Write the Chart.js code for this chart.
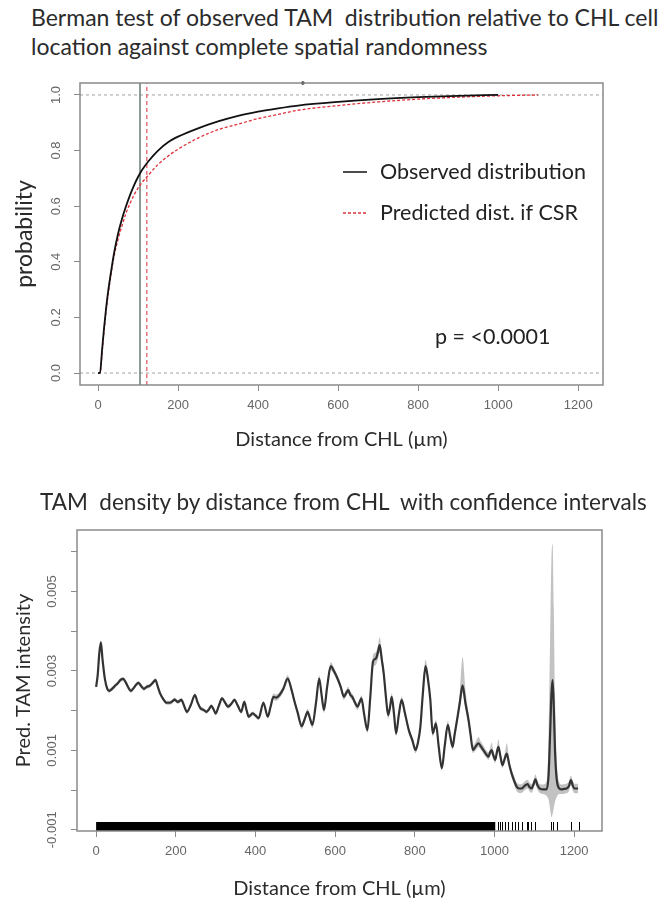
<!DOCTYPE html>
<html>
<head>
<meta charset="utf-8">
<script src="https://cdn.jsdelivr.net/npm/chart.js@4.4.0/dist/chart.umd.min.js"></script>
<style>
  body { margin: 0; background: #fff; }
  #page { position: relative; width: 662px; height: 901px; overflow: hidden; }
  .plot { position: absolute; left: 0; width: 662px; }
  .heading { position: absolute; font-family: Lato, sans-serif; color: #2b2b2b; white-space: pre; }
</style>
</head>
<body>
<div id="page">
  <div class="plot" style="top:65px;height:395px"><canvas id="bermanChart" width="662" height="395"></canvas></div>
  <div class="plot" style="top:460px;height:441px"><canvas id="densityChart" width="662" height="441"></canvas></div>
  <div class="heading" style="left:31px;top:3px;font-size:23px;line-height:29px">Berman test of observed TAM  distribution relative to CHL cell
location against complete spatial randomness</div>
  <div class="heading" style="left:40px;top:488px;font-size:22.5px">TAM  density by distance from CHL  with confidence intervals</div>
</div>
<script>
// ---- top plot: cumulative distribution of TAM distance to CHL ----
const obsDist = [0, 5, 10, 15, 20, 25, 30, 40, 50, 60, 70, 80, 90, 100, 110, 125, 150, 175, 200, 250, 300, 350, 400, 450, 500, 600, 700, 800, 900, 1000];
const obsCdf  = [0, 0, 0.08, 0.16, 0.23, 0.29, 0.34, 0.43, 0.50, 0.555, 0.60, 0.64, 0.675, 0.705, 0.73, 0.76, 0.80, 0.83, 0.85, 0.88, 0.905, 0.925, 0.94, 0.952, 0.962, 0.975, 0.985, 0.992, 0.997, 1.0];
const csrDist = [0, 5, 10, 15, 20, 30, 40, 50, 60, 70, 80, 90, 100, 110, 125, 150, 175, 200, 250, 300, 350, 400, 450, 500, 600, 700, 800, 900, 1000, 1100];
const csrCdf  = [0, 0, 0.07, 0.15, 0.22, 0.33, 0.42, 0.48, 0.53, 0.575, 0.61, 0.64, 0.665, 0.685, 0.71, 0.75, 0.78, 0.805, 0.845, 0.875, 0.895, 0.915, 0.93, 0.945, 0.962, 0.975, 0.985, 0.992, 0.997, 1.0];
const obsMarker = 105;   // solid vertical line
const csrMarker = 122;   // red dashed vertical line
const refLevels = [0, 1];
const cdfXTicks = [0, 200, 400, 600, 800, 1000, 1200];
const cdfYTicks = [0, 0.2, 0.4, 0.6, 0.8, 1.0];
const cdfYLabels = ['0.0', '0.2', '0.4', '0.6', '0.8', '1.0'];
const strayDot = [512, 1.043];
const cdfX = [-45, 1262];
const cdfY = [-0.043, 1.043];

// ---- bottom plot: predicted TAM intensity with confidence band ----
const distance = [0, 4, 8, 12, 16, 22, 28, 33, 40, 47, 55, 62, 68, 75, 82, 87, 95, 100, 106, 113, 120, 127, 135, 142, 149, 155, 160, 168, 177, 185, 192, 197, 205, 214, 221, 228, 238, 248, 255, 262, 270, 277, 283, 289, 295, 300, 308, 316, 324, 331, 340, 347, 356, 364, 372, 378, 383, 393, 400, 408, 420, 431, 438, 445, 452, 460, 470, 481, 490, 497, 506, 516, 524, 531, 537, 543, 552, 560, 566, 572, 580, 589, 597, 606, 614, 622, 628, 633, 638, 643, 650, 656, 661, 666, 673, 681, 688, 695, 700, 703, 708, 712, 717, 722, 728, 733, 738, 742, 748, 753, 760, 767, 775, 785, 794, 802, 808, 814, 820, 827, 833, 839, 845, 849, 853, 860, 868, 875, 883, 889, 895, 900, 906, 913, 920, 927, 935, 940, 946, 953, 960, 966, 972, 978, 985, 989, 993, 997, 1002, 1006, 1010, 1015, 1020, 1026, 1031, 1037, 1043, 1050, 1056, 1062, 1068, 1075, 1083, 1088, 1093, 1098, 1103, 1108, 1114, 1122, 1131, 1136, 1140, 1143, 1146, 1149, 1152, 1156, 1162, 1168, 1175, 1181, 1187, 1192, 1197, 1201, 1210];
const intensity = [2.60e-3, 2.90e-3, 3.45e-3, 3.72e-3, 3.30e-3, 2.80e-3, 2.55e-3, 2.50e-3, 2.55e-3, 2.62e-3, 2.70e-3, 2.78e-3, 2.80e-3, 2.70e-3, 2.56e-3, 2.50e-3, 2.58e-3, 2.65e-3, 2.70e-3, 2.62e-3, 2.55e-3, 2.60e-3, 2.63e-3, 2.70e-3, 2.77e-3, 2.60e-3, 2.45e-3, 2.30e-3, 2.20e-3, 2.20e-3, 2.24e-3, 2.28e-3, 2.22e-3, 2.27e-3, 2.12e-3, 1.97e-3, 2.15e-3, 2.39e-3, 2.20e-3, 2.06e-3, 2.02e-3, 1.97e-3, 2.03e-3, 2.12e-3, 2.03e-3, 1.93e-3, 2.12e-3, 2.31e-3, 2.20e-3, 2.10e-3, 2.18e-3, 2.27e-3, 2.12e-3, 1.97e-3, 2.22e-3, 2.00e-3, 1.85e-3, 1.93e-3, 1.88e-3, 1.81e-3, 2.20e-3, 1.85e-3, 2.10e-3, 2.35e-3, 2.33e-3, 2.39e-3, 2.55e-3, 2.81e-3, 2.55e-3, 2.27e-3, 1.95e-3, 1.61e-3, 1.80e-3, 1.97e-3, 1.80e-3, 1.64e-3, 2.20e-3, 2.81e-3, 2.40e-3, 2.02e-3, 2.60e-3, 3.12e-3, 3.00e-3, 2.81e-3, 2.60e-3, 2.35e-3, 2.45e-3, 2.52e-3, 2.40e-3, 2.35e-3, 2.20e-3, 2.10e-3, 2.20e-3, 2.31e-3, 1.90e-3, 1.51e-3, 2.30e-3, 3.23e-3, 3.30e-3, 3.32e-3, 3.50e-3, 3.65e-3, 3.30e-3, 2.94e-3, 2.30e-3, 1.89e-3, 2.10e-3, 2.35e-3, 1.90e-3, 1.43e-3, 1.90e-3, 2.27e-3, 1.95e-3, 1.51e-3, 1.25e-3, 1.01e-3, 1.20e-3, 1.59e-3, 2.40e-3, 3.12e-3, 2.80e-3, 2.27e-3, 1.43e-3, 1.55e-3, 1.68e-3, 1.10e-3, 0.55e-3, 1.10e-3, 1.64e-3, 1.35e-3, 1.09e-3, 1.40e-3, 1.76e-3, 2.20e-3, 2.64e-3, 2.20e-3, 1.76e-3, 1.40e-3, 1.01e-3, 1.10e-3, 1.18e-3, 1.10e-3, 1.01e-3, 0.92e-3, 0.84e-3, 0.95e-3, 1.01e-3, 0.88e-3, 0.76e-3, 0.95e-3, 1.09e-3, 0.85e-3, 0.63e-3, 0.80e-3, 0.92e-3, 0.65e-3, 0.42e-3, 0.22e-3, 0.08e-3, 0.04e-3, 0.04e-3, 0.10e-3, 0.15e-3, 0.08e-3, 0.04e-3, 0.14e-3, 0.27e-3, 0.12e-3, 0.04e-3, 0.02e-3, 0.02e-3, 0.40e-3, 1.50e-3, 2.40e-3, 2.77e-3, 2.10e-3, 1.00e-3, 0.30e-3, 0.05e-3, 0.02e-3, 0.03e-3, 0.04e-3, 0.10e-3, 0.25e-3, 0.10e-3, 0.04e-3, 0.04e-3];
const ciLow = [2.55e-3, 2.85e-3, 3.40e-3, 3.67e-3, 3.25e-3, 2.75e-3, 2.50e-3, 2.45e-3, 2.50e-3, 2.57e-3, 2.65e-3, 2.73e-3, 2.75e-3, 2.65e-3, 2.51e-3, 2.45e-3, 2.53e-3, 2.60e-3, 2.65e-3, 2.57e-3, 2.50e-3, 2.55e-3, 2.58e-3, 2.65e-3, 2.72e-3, 2.55e-3, 2.40e-3, 2.25e-3, 2.15e-3, 2.15e-3, 2.19e-3, 2.23e-3, 2.17e-3, 2.22e-3, 2.07e-3, 1.92e-3, 2.10e-3, 2.34e-3, 2.15e-3, 2.01e-3, 1.97e-3, 1.92e-3, 1.98e-3, 2.07e-3, 1.98e-3, 1.88e-3, 2.07e-3, 2.26e-3, 2.15e-3, 2.05e-3, 2.13e-3, 2.22e-3, 2.07e-3, 1.92e-3, 2.17e-3, 1.95e-3, 1.80e-3, 1.88e-3, 1.83e-3, 1.76e-3, 2.15e-3, 1.80e-3, 2.05e-3, 2.27e-3, 2.25e-3, 2.31e-3, 2.47e-3, 2.73e-3, 2.47e-3, 2.19e-3, 1.87e-3, 1.53e-3, 1.72e-3, 1.89e-3, 1.72e-3, 1.56e-3, 2.12e-3, 2.73e-3, 2.32e-3, 1.94e-3, 2.52e-3, 3.02e-3, 2.91e-3, 2.73e-3, 2.52e-3, 2.27e-3, 2.37e-3, 2.44e-3, 2.32e-3, 2.27e-3, 2.12e-3, 2.02e-3, 2.12e-3, 2.23e-3, 1.82e-3, 1.43e-3, 2.20e-3, 3.08e-3, 3.14e-3, 3.16e-3, 3.32e-3, 3.45e-3, 3.13e-3, 2.80e-3, 2.20e-3, 1.80e-3, 2.01e-3, 2.26e-3, 1.81e-3, 1.35e-3, 1.81e-3, 2.18e-3, 1.86e-3, 1.43e-3, 1.17e-3, 0.93e-3, 1.12e-3, 1.50e-3, 2.28e-3, 2.96e-3, 2.66e-3, 2.16e-3, 1.35e-3, 1.47e-3, 1.59e-3, 1.02e-3, 0.48e-3, 1.02e-3, 1.54e-3, 1.26e-3, 1.01e-3, 1.31e-3, 1.64e-3, 2.05e-3, 2.45e-3, 2.05e-3, 1.64e-3, 1.30e-3, 0.93e-3, 1.01e-3, 1.08e-3, 1.01e-3, 0.92e-3, 0.84e-3, 0.76e-3, 0.86e-3, 0.91e-3, 0.79e-3, 0.68e-3, 0.85e-3, 0.98e-3, 0.76e-3, 0.55e-3, 0.70e-3, 0.81e-3, 0.56e-3, 0.33e-3, 0.12e-3, -0.03e-3, -0.07e-3, -0.07e-3, -0.01e-3, 0.04e-3, -0.03e-3, -0.07e-3, 0.03e-3, 0.15e-3, 0.01e-3, -0.07e-3, -0.10e-3, -0.15e-3, -0.25e-3, -0.50e-3, -0.68e-3, -0.60e-3, -0.45e-3, -0.30e-3, -0.18e-3, -0.10e-3, -0.10e-3, -0.09e-3, -0.08e-3, -0.02e-3, 0.13e-3, -0.02e-3, -0.08e-3, -0.08e-3];
const ciHigh = [2.65e-3, 2.95e-3, 3.50e-3, 3.77e-3, 3.35e-3, 2.85e-3, 2.60e-3, 2.55e-3, 2.60e-3, 2.67e-3, 2.75e-3, 2.83e-3, 2.85e-3, 2.75e-3, 2.61e-3, 2.55e-3, 2.63e-3, 2.70e-3, 2.75e-3, 2.67e-3, 2.60e-3, 2.65e-3, 2.68e-3, 2.75e-3, 2.82e-3, 2.65e-3, 2.50e-3, 2.35e-3, 2.25e-3, 2.25e-3, 2.29e-3, 2.33e-3, 2.27e-3, 2.32e-3, 2.17e-3, 2.02e-3, 2.20e-3, 2.44e-3, 2.25e-3, 2.11e-3, 2.07e-3, 2.02e-3, 2.08e-3, 2.17e-3, 2.08e-3, 1.98e-3, 2.17e-3, 2.36e-3, 2.25e-3, 2.15e-3, 2.23e-3, 2.32e-3, 2.17e-3, 2.02e-3, 2.27e-3, 2.05e-3, 1.90e-3, 1.98e-3, 1.93e-3, 1.86e-3, 2.25e-3, 1.90e-3, 2.15e-3, 2.43e-3, 2.41e-3, 2.47e-3, 2.63e-3, 2.89e-3, 2.63e-3, 2.35e-3, 2.03e-3, 1.69e-3, 1.88e-3, 2.05e-3, 1.88e-3, 1.72e-3, 2.28e-3, 2.89e-3, 2.48e-3, 2.10e-3, 2.68e-3, 3.22e-3, 3.09e-3, 2.89e-3, 2.68e-3, 2.43e-3, 2.53e-3, 2.60e-3, 2.48e-3, 2.43e-3, 2.28e-3, 2.18e-3, 2.28e-3, 2.39e-3, 1.98e-3, 1.59e-3, 2.40e-3, 3.38e-3, 3.46e-3, 3.48e-3, 3.68e-3, 3.85e-3, 3.47e-3, 3.08e-3, 2.40e-3, 1.98e-3, 2.19e-3, 2.44e-3, 1.99e-3, 1.51e-3, 1.99e-3, 2.36e-3, 2.04e-3, 1.59e-3, 1.33e-3, 1.09e-3, 1.28e-3, 1.68e-3, 2.52e-3, 3.28e-3, 2.94e-3, 2.38e-3, 1.51e-3, 1.63e-3, 1.77e-3, 1.18e-3, 0.62e-3, 1.18e-3, 1.74e-3, 1.44e-3, 1.17e-3, 1.49e-3, 1.88e-3, 2.45e-3, 3.35e-3, 2.55e-3, 1.92e-3, 1.52e-3, 1.12e-3, 1.22e-3, 1.34e-3, 1.22e-3, 1.13e-3, 1.02e-3, 0.95e-3, 1.06e-3, 1.20e-3, 0.99e-3, 0.86e-3, 1.08e-3, 1.28e-3, 0.96e-3, 0.73e-3, 0.93e-3, 1.18e-3, 0.76e-3, 0.52e-3, 0.33e-3, 0.19e-3, 0.15e-3, 0.15e-3, 0.21e-3, 0.26e-3, 0.19e-3, 0.15e-3, 0.25e-3, 0.39e-3, 0.23e-3, 0.15e-3, 0.14e-3, 0.22e-3, 1.40e-3, 4.00e-3, 5.80e-3, 6.20e-3, 4.60e-3, 2.40e-3, 0.85e-3, 0.22e-3, 0.14e-3, 0.15e-3, 0.16e-3, 0.22e-3, 0.37e-3, 0.22e-3, 0.16e-3, 0.16e-3];
const rugDenseSpan = [0, 1002];
const rugSingles = [1008, 1014, 1020, 1027, 1033, 1043, 1052, 1060, 1068, 1081, 1083, 1093, 1103, 1143, 1148, 1156, 1192, 1212];
const densXTicks = [0, 200, 400, 600, 800, 1000, 1200];
const densYTicks = [-0.001, 0, 0.001, 0.002, 0.003, 0.004, 0.005, 0.006];
const densYLabels = ['-0.001', '', '0.001', '', '0.003', '', '0.005', ''];
const densX = [-48, 1270];
const densY = [-0.00103, 0.00655];

const toPoints = (xs, ys) => xs.map((x, i) => ({x: x, y: ys[i]}));
const fixTicks = values => scale => { scale.ticks = values.map(v => ({value: v})); };

const tickFont = {family: '"Liberation Sans", Arial, sans-serif', size: 13};
const axisGrey = '#8a8a8a';

// plain R style frame around the plotting region
const plotFrame = {
    id: 'plotFrame',
    afterDraw(chart) {
        const {ctx, chartArea: a} = chart;
        ctx.save();
        ctx.strokeStyle = axisGrey;
        ctx.lineWidth = 1.5;
        ctx.strokeRect(a.left, a.top, a.right - a.left, a.bottom - a.top);
        ctx.restore();
    }
};

// legend and p value written inside the top plot
const bermanNotes = {
    id: 'bermanNotes',
    afterDraw(chart) {
        const {ctx, chartArea: a} = chart;
        const items = chart.data.datasets.filter(ds => ds.inLegend);
        ctx.save();
        ctx.font = '21.5px Lato, sans-serif';
        ctx.fillStyle = '#222';
        ctx.textBaseline = 'middle';
        items.forEach((ds, i) => {
            const y = a.top + 89 + i * 41;
            ctx.strokeStyle = ds.borderColor;
            ctx.lineWidth = 1.5;
            ctx.setLineDash(ds.borderDash || []);
            ctx.beginPath();
            ctx.moveTo(a.left + 263, y);
            ctx.lineTo(a.left + 287, y);
            ctx.stroke();
            ctx.setLineDash([]);
            ctx.fillText(ds.label, a.left + 300, y);
        });
        ctx.fillText('p = <0.0001', a.left + 355, a.top + 254);
        ctx.restore();
    }
};

// rug of observed TAM distances along the bottom edge
const rugMarks = {
    id: 'rugMarks',
    afterDatasetsDraw(chart) {
        const {ctx, chartArea: a, scales: {x}} = chart;
        const h = 9;
        ctx.save();
        ctx.fillStyle = '#000';
        const x0 = x.getPixelForValue(rugDenseSpan[0]);
        const x1 = x.getPixelForValue(rugDenseSpan[1]);
        ctx.fillRect(x0, a.bottom - h, x1 - x0, h);
        ctx.strokeStyle = '#000';
        ctx.lineWidth = 1;
        rugSingles.forEach(d => {
            const px = Math.round(x.getPixelForValue(d)) + 0.5;
            ctx.beginPath();
            ctx.moveTo(px, a.bottom);
            ctx.lineTo(px, a.bottom - h);
            ctx.stroke();
        });
        ctx.restore();
    }
};

function axisBase(title, range, tickValues, fit) {
    return {
        type: 'linear',
        min: range[0],
        max: range[1],
        afterBuildTicks: fixTicks(tickValues),
        afterFit: fit,
        border: {display: false},
        grid: {drawOnChartArea: false, drawTicks: true, tickLength: 6, color: axisGrey, lineWidth: 1},
        title: {display: true, text: title, color: '#2b2b2b', font: {family: 'Lato, sans-serif', size: 20}},
        ticks: {font: tickFont, color: '#666', padding: 7, callback: v => String(v)}
    };
}

// ---- top chart ----
const cdfXAxis = axisBase('Distance from CHL (µm)', cdfX, cdfXTicks, s => { s.height = 75; });
cdfXAxis.title.padding = {top: 0, bottom: 8};
const cdfYAxis = axisBase('probability', cdfY, cdfYTicks, s => { s.width = 80; });
cdfYAxis.ticks = {font: tickFont, color: '#666', minRotation: 90, maxRotation: 90, crossAlign: 'center', padding: 9,
    callback: (v, i) => cdfYLabels[i]};
cdfYAxis.title.font = {family: 'Lato, sans-serif', size: 23};
cdfYAxis.title.padding = {top: 11, bottom: 0};

new Chart(document.getElementById('bermanChart'), {
    type: 'line',
    data: {
        datasets: [
            {label: 'Observed distribution', inLegend: true, order: 0, data: toPoints(obsDist, obsCdf), borderColor: '#111', borderWidth: 1.8, cubicInterpolationMode: 'monotone'},
            {label: 'Predicted dist. if CSR', inLegend: true, order: 1, data: toPoints(csrDist, csrCdf), borderColor: '#e0303a', borderWidth: 1.3, borderDash: [3, 2], cubicInterpolationMode: 'monotone'},
            {label: 'CSR marker', order: 2, data: toPoints([csrMarker, csrMarker], cdfY), borderColor: '#e0515b', borderWidth: 1.2, borderDash: [4, 3]},
            {label: 'observed marker', order: 3, data: toPoints([obsMarker, obsMarker], cdfY), borderColor: '#6f847c', borderWidth: 1.6},
            {label: 'lower ref', order: 4, data: toPoints(cdfX, [refLevels[0], refLevels[0]]), borderColor: '#b0b0b0', borderWidth: 1.2, borderDash: [3, 3]},
            {label: 'upper ref', order: 4, data: toPoints(cdfX, [refLevels[1], refLevels[1]]), borderColor: '#b0b0b0', borderWidth: 1.2, borderDash: [3, 3]},
            {label: 'dot', order: 0, data: [{x: strayDot[0], y: strayDot[1]}], showLine: false, pointRadius: 1.8, backgroundColor: '#111', borderWidth: 0, clip: false}
        ]
    },
    options: {
        responsive: false,
        animation: false,
        events: [],
        layout: {padding: {top: 18, right: 59, bottom: 0, left: 0}},
        elements: {point: {radius: 0}, line: {fill: false}},
        scales: {x: cdfXAxis, y: cdfYAxis},
        plugins: {legend: {display: false}, tooltip: {enabled: false}}
    },
    plugins: [plotFrame, bermanNotes]
});

// ---- bottom chart ----
const densXAxis = axisBase('Distance from CHL (µm)', densX, densXTicks, s => { s.height = 70; });
densXAxis.title.padding = {top: 0, bottom: 0};
const densYAxis = axisBase('Pred. TAM intensity', densY, densYTicks, s => { s.width = 77; });
densYAxis.ticks = {font: tickFont, color: '#666', minRotation: 90, maxRotation: 90, crossAlign: 'center', padding: 0,
    callback: (v, i) => densYLabels[i]};
densYAxis.title.padding = {top: 12, bottom: 0};

new Chart(document.getElementById('densityChart'), {
    type: 'line',
    data: {
        datasets: [
            {label: 'upper CI', order: 2, data: toPoints(distance, ciHigh), borderColor: 'rgba(0,0,0,0)', borderWidth: 0, fill: false, cubicInterpolationMode: 'monotone'},
            {label: 'lower CI', order: 1, data: toPoints(distance, ciLow), borderColor: 'rgba(0,0,0,0)', borderWidth: 0, backgroundColor: '#c2c2c2', fill: '-1', cubicInterpolationMode: 'monotone'},
            {label: 'Pred. TAM intensity', order: 0, data: toPoints(distance, intensity), borderColor: '#333', borderWidth: 2.2, fill: false, cubicInterpolationMode: 'monotone'}
        ]
    },
    options: {
        responsive: false,
        animation: false,
        events: [],
        layout: {padding: {top: 70, right: 60, bottom: 0, left: 0}},
        elements: {point: {radius: 0}},
        scales: {x: densXAxis, y: densYAxis},
        plugins: {legend: {display: false}, tooltip: {enabled: false}, filler: {propagate: false}}
    },
    plugins: [plotFrame, rugMarks]
});
</script>
</body>
</html>
